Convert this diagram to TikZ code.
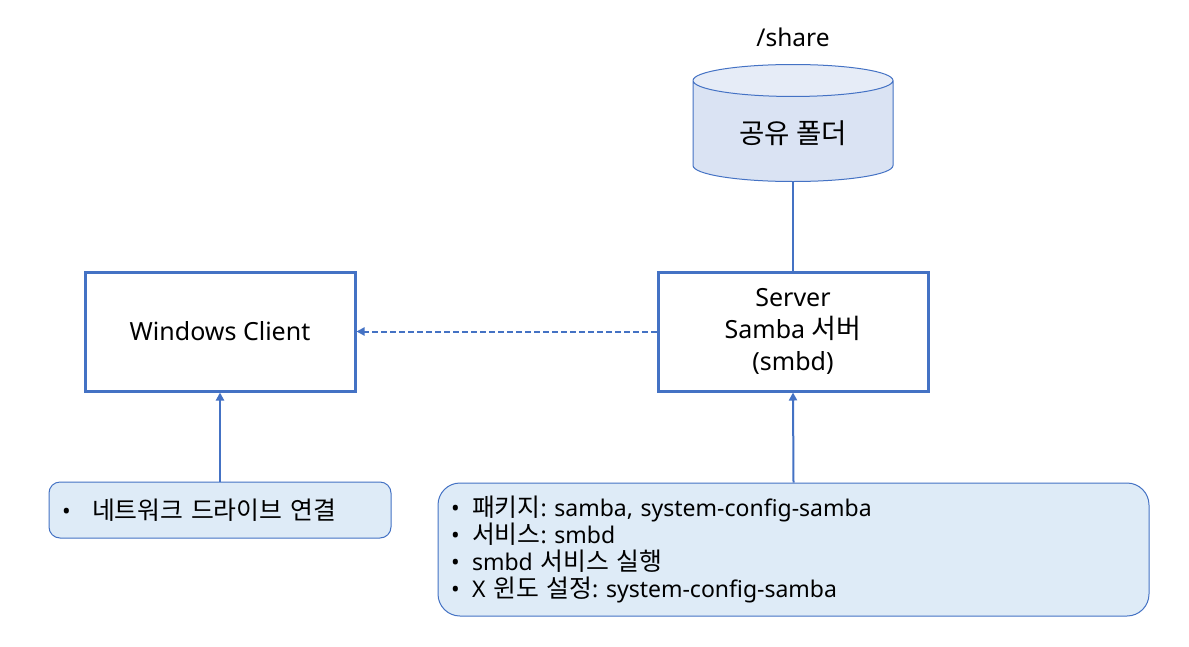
\documentclass[tikz,border=0pt]{standalone}
\usepackage{fontspec}
\setmainfont{Noto Sans}
\newfontfamily\kr[Scale = 1.08]{Noto Sans CJK KR}
\frenchspacing
\usetikzlibrary{arrows.meta}
\usetikzlibrary{positioning}
\usetikzlibrary{shapes.geometric}
\definecolor{mblue}{HTML}{4472C4}
\definecolor{mfill}{HTML}{DEEBF7}
\definecolor{cylbody}{HTML}{DAE3F3}
\definecolor{cyltop}{HTML}{E6ECF7}
\tikzset{
  hostbox/.style = {draw = mblue, line width = 3pt, minimum width = 270pt, minimum height = 119pt, align = center, font = \fontsize{25}{32}\selectfont},
  notebox/.style = {draw = mblue, fill = mfill, line width = 1pt, align = left, inner xsep = 13pt, font = \fontsize{23}{27}\selectfont},
  link/.style = {mblue, line width = 2pt},
  tip/.style = {-{Triangle[length = 8pt, width = 8pt]}},
}
\newcommand{\itm}[1][21pt]{\makebox[#1][l]{•}}

\begin{document}
\begin{tikzpicture}[x = 1pt, y = -1pt]
    \useasboundingbox (0, 0) rectangle (1189, 646);

    \node [hostbox] (client) at (220, 331.5) {Windows Client};
    \node [hostbox] (server) at (793, 331.5) {Server\\Samba {\kr 서버}\\(smbd)};

    \node [cylinder, shape border rotate = 90, aspect = 0.28, draw = mblue, line width = 1pt,
           cylinder uses custom fill, cylinder body fill = cylbody, cylinder end fill = cyltop,
           minimum width = 200pt, minimum height = 117pt, anchor = south,
           font = \kr\fontsize{25.5}{30}\selectfont]
      (share) at (793, 182) {공유 폴더};
    \node [font = \fontsize{24.5}{28}\selectfont] (sharename) at (793, 37) {/share};

    \node [notebox, rounded corners = 11pt, minimum width = 342pt, minimum height = 56pt, text width = 316pt]
      (clientnote) at (220, 510) {\itm[30pt]{\kr 네트워크 드라이브 연결}};
    \node [notebox, rounded corners = 22pt, minimum width = 711pt, minimum height = 133pt, text width = 685pt]
      (servernote) at (793.5, 549.5) {%
        \itm{\kr 패키지}: samba, system-config-samba\\
        \itm{\kr 서비스}: smbd\\
        \itm smbd {\kr 서비스 실행}\\
        \itm X {\kr 윈도 설정}: system-config-samba};

    % connectors
    \draw [link, tip] (clientnote.north) -- (client.south);
    \draw [link, tip] (servernote.north) -- (server.south);
    \draw [link, tip, dash pattern = on 6pt off 3pt] (server.west) -- (client.east);
    \draw [link] (share.south) -- (server.north);
\end{tikzpicture}
\end{document}
